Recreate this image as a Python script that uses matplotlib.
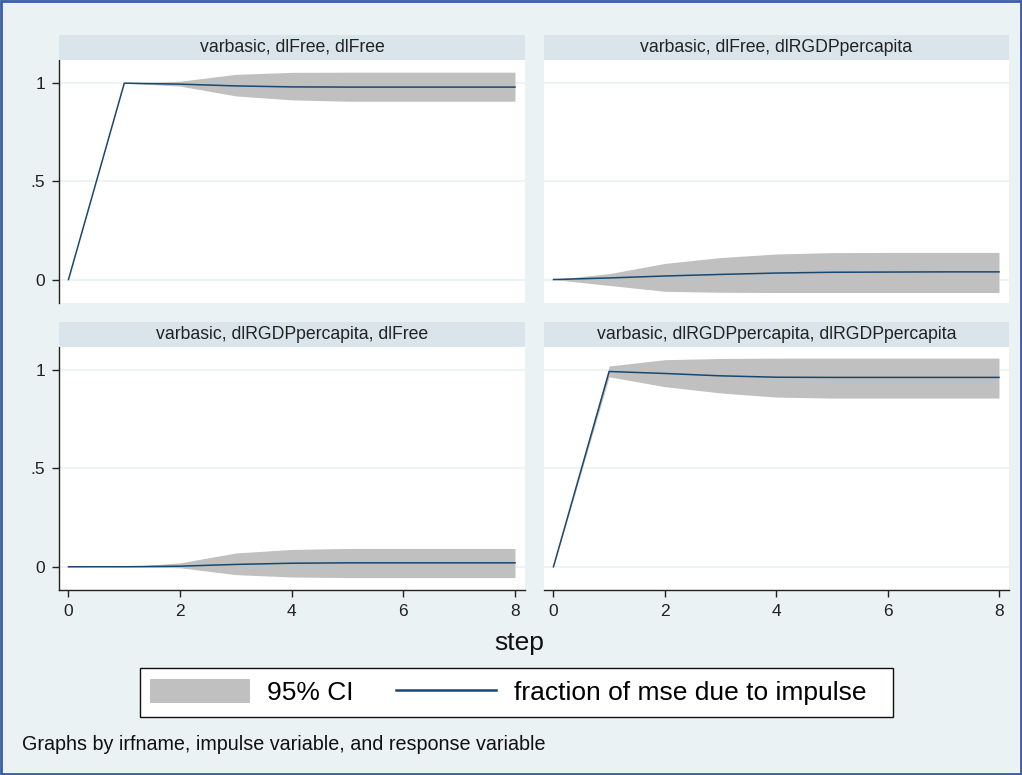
import matplotlib.pyplot as plt
from matplotlib.patches import Rectangle, Patch
from matplotlib.lines import Line2D
import numpy as np

plt.rcParams['font.family'] = ['Liberation Sans', 'DejaVu Sans']

# forecast-error variance decomposition, steps 0..8
steps = [0, 1, 2, 3, 4, 5, 6, 7, 8]

panel_titles = [
    'varbasic, dlFree, dlFree',
    'varbasic, dlFree, dlRGDPpercapita',
    'varbasic, dlRGDPpercapita, dlFree',
    'varbasic, dlRGDPpercapita, dlRGDPpercapita',
]

free_free = [0, 1.0, 0.995, 0.986, 0.981, 0.980, 0.980, 0.980, 0.980]
free_free_lo = [0, 1.0, 0.985, 0.935, 0.915, 0.908, 0.908, 0.908, 0.908]
free_free_hi = [0, 1.0, 1.010, 1.045, 1.055, 1.056, 1.056, 1.056, 1.056]

free_gdp = [0, 0.008, 0.018, 0.026, 0.033, 0.037, 0.038, 0.039, 0.039]
free_gdp_lo = [0, -0.030, -0.060, -0.065, -0.066, -0.066, -0.066, -0.066, -0.066]
free_gdp_hi = [0, 0.030, 0.082, 0.112, 0.130, 0.137, 0.138, 0.138, 0.138]

gdp_free = [0, 0, 0.003, 0.012, 0.018, 0.020, 0.020, 0.020, 0.020]
gdp_free_lo = [0, 0, -0.005, -0.040, -0.052, -0.055, -0.055, -0.055, -0.055]
gdp_free_hi = [0, 0, 0.020, 0.070, 0.088, 0.093, 0.093, 0.093, 0.093]

gdp_gdp = [0, 0.992, 0.982, 0.970, 0.963, 0.962, 0.962, 0.962, 0.962]
gdp_gdp_lo = [0, 0.965, 0.915, 0.883, 0.862, 0.857, 0.857, 0.857, 0.857]
gdp_gdp_hi = [0, 1.020, 1.052, 1.058, 1.060, 1.060, 1.060, 1.060, 1.060]

panels = [
    (free_free, free_free_lo, free_free_hi),
    (free_gdp, free_gdp_lo, free_gdp_hi),
    (gdp_free, gdp_free_lo, gdp_free_hi),
    (gdp_gdp, gdp_gdp_lo, gdp_gdp_hi),
]

W, H = 1022, 775
bg = '#EAF2F3'
strip_col = '#D9E5EB'
ci_col = '#C0C0C0'
line_col = '#1A476F'

fig = plt.figure(figsize=(W / 100, H / 100), dpi=100, facecolor=bg)

# panel boxes in pixels: (left, top, right, bottom)
boxes = [
    (59, 60, 525, 302.7),
    (544, 60, 1009, 302.7),
    (59, 346.7, 525, 590),
    (544, 346.7, 1009, 590),
]

for i, (box, title, (est, lo, hi)) in enumerate(zip(boxes, panel_titles, panels)):
    l, t, r, b = box
    ax = fig.add_axes([l / W, 1 - b / H, (r - l) / W, (b - t) / H])
    ax.set_facecolor('white')
    ax.fill_between(steps, lo, hi, color=ci_col, linewidth=0, zorder=2)
    ax.plot(steps, est, color=line_col, lw=1.1, zorder=3)
    ax.set_xlim(-0.17, 8.18)
    ax.set_ylim(-0.118, 1.118)
    ax.set_yticks([0, 0.5, 1])
    ax.set_yticklabels(['0', '.5', '1'])
    ax.set_xticks([0, 2, 4, 6, 8])
    for yv in [0, 0.5, 1]:
        ax.axhline(yv, color=bg, lw=1.2, zorder=1)
    for s in ax.spines.values():
        s.set_visible(False)
    left_col = i in (0, 2)
    bottom_row = i in (2, 3)
    if left_col:
        ax.spines['left'].set_visible(True)
        ax.spines['left'].set_color('#222222')
        ax.spines['left'].set_linewidth(1.0)
    if bottom_row:
        ax.spines['bottom'].set_visible(True)
        ax.spines['bottom'].set_color('#222222')
        ax.spines['bottom'].set_linewidth(1.0)
    ax.tick_params(axis='y', left=left_col, labelleft=left_col, length=5,
                   width=1, pad=5, labelsize=12.5, colors='#222222')
    ax.tick_params(axis='x', bottom=bottom_row, labelbottom=bottom_row,
                   length=5, width=1, pad=5, labelsize=12.5, colors='#222222')

    # title strip above each panel
    sh = 25
    fig.patches.append(Rectangle((l / W, 1 - t / H), (r - l) / W, sh / H,
                                 transform=fig.transFigure, facecolor=strip_col,
                                 edgecolor='none', zorder=0))
    fig.text((l + r) / 2 / W, 1 - (t - sh / 2) / H, title, ha='center',
             va='center', fontsize=12.7, color='#222222')

fig.text(519 / W, 1 - 643 / H, 'step', ha='center', va='center',
         fontsize=19, color='#111111')

# legend box, drawn separately so the keys sit left of centre
fig.patches.append(Rectangle((140 / W, 1 - 717 / H), 753 / W, 49 / H,
                             transform=fig.transFigure, facecolor='white',
                             edgecolor='#111111', lw=1.0, zorder=1))
handles = [Patch(facecolor=ci_col, edgecolor='none'),
           Line2D([], [], color=line_col, lw=1.8)]
leg = fig.legend(handles, ['95% CI', 'fraction of mse due to impulse'],
                 loc='center', bbox_to_anchor=(508 / W, 1 - 692 / H), ncol=2,
                 fontsize=19, frameon=False,
                 handlelength=3.8, handleheight=1.05, handletextpad=0.65,
                 columnspacing=1.6, borderpad=0.2, borderaxespad=0)
leg.set_zorder(3)

fig.text(22 / W, 1 - 744 / H, 'Graphs by irfname, impulse variable, and response variable',
         ha='left', va='center', fontsize=14.25, color='#111111')

# outer frame
fig.patches.append(Rectangle((0.001, 0.001), 0.998, 0.998, transform=fig.transFigure,
                             facecolor='none', edgecolor='#3A5DA8', lw=2, zorder=5))

fig.savefig('out.png', dpi=100, facecolor=bg)
